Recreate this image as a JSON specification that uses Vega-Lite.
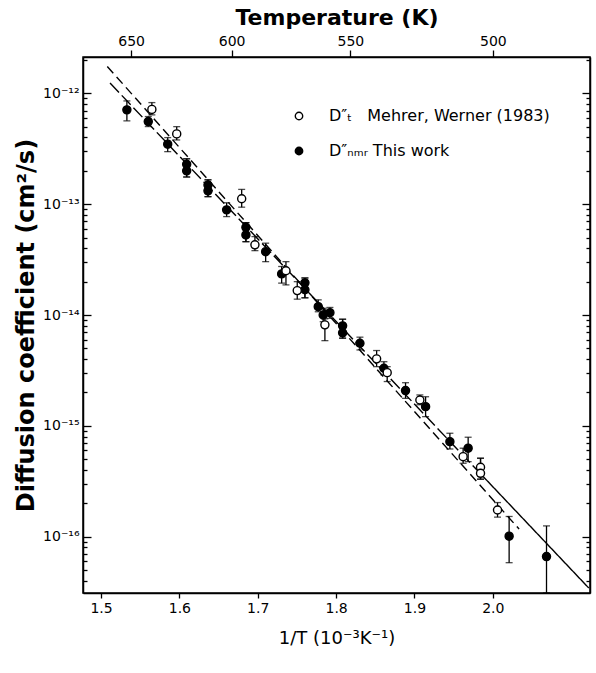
{
  "$schema": "https://vega.github.io/schema/vega-lite/v6.json",
  "width": 507,
  "height": 536,
  "autosize": {"type": "none"},
  "padding": {"left": 83, "top": 57, "right": 6, "bottom": 80},
  "background": "white",
  "config": {
    "view": {"stroke": "black", "strokeWidth": 1.5},
    "axis": {"domainColor": "black", "domainWidth": 1.5, "tickColor": "black", "tickWidth": 1.3, "labelColor": "black", "titleColor": "black", "grid": false, "labelFont": "DejaVu Sans", "titleFont": "DejaVu Sans"},
    "legend": {"labelFont": "DejaVu Sans"}
  },
  "datasets": {
    "fits": [
      {"series": "tracer", "x": 1.508, "D": 1.75e-12},
      {"series": "tracer", "x": 2.0335, "D": 1.17e-16},
      {"series": "nmr", "x": 1.5115, "D": 1.24e-12},
      {"series": "nmr", "x": 1.985, "D": 3.65e-16},
      {"series": "nmrext", "x": 1.985, "D": 3.65e-16},
      {"series": "nmrext", "x": 2.1224, "D": 3.44e-17}
    ],
    "points": [
      {"series": "nmr", "x": 1.533, "D": 7.10e-13, "lo": 5.65e-13, "hi": 8.55e-13},
      {"series": "nmr", "x": 1.5603, "D": 5.57e-13, "lo": 5.02e-13, "hi": 6.18e-13},
      {"series": "nmr", "x": 1.5851, "D": 3.48e-13, "lo": 2.98e-13, "hi": 3.99e-13},
      {"series": "nmr", "x": 1.6093, "D": 2.29e-13, "lo": 1.76e-13, "hi": 2.57e-13},
      {"series": "nmr", "x": 1.6093, "D": 2.00e-13, "lo": 1.76e-13, "hi": 2.57e-13},
      {"series": "nmr", "x": 1.6365, "D": 1.49e-13, "lo": 1.17e-13, "hi": 1.66e-13},
      {"series": "nmr", "x": 1.6365, "D": 1.32e-13, "lo": 1.17e-13, "hi": 1.66e-13},
      {"series": "nmr", "x": 1.6603, "D": 8.89e-14, "lo": 7.73e-14, "hi": 1.03e-13},
      {"series": "nmr", "x": 1.6849, "D": 6.18e-14, "lo": 4.59e-14, "hi": 6.82e-14},
      {"series": "nmr", "x": 1.6849, "D": 5.28e-14, "lo": 4.59e-14, "hi": 6.82e-14},
      {"series": "nmr", "x": 1.7101, "D": 3.73e-14, "lo": 3.03e-14, "hi": 4.45e-14},
      {"series": "nmr", "x": 1.7305, "D": 2.35e-14, "lo": 1.94e-14, "hi": 2.74e-14},
      {"series": "nmr", "x": 1.7602, "D": 1.95e-14, "lo": 1.43e-14, "hi": 2.16e-14},
      {"series": "nmr", "x": 1.7602, "D": 1.69e-14, "lo": 1.43e-14, "hi": 2.16e-14},
      {"series": "nmr", "x": 1.7772, "D": 1.19e-14, "lo": 1.07e-14, "hi": 1.37e-14},
      {"series": "nmr", "x": 1.7835, "D": 1.00e-14, "lo": 8.7e-15, "hi": 1.15e-14},
      {"series": "nmr", "x": 1.7921, "D": 1.05e-14, "lo": 9.35e-15, "hi": 1.17e-14},
      {"series": "nmr", "x": 1.8083, "D": 7.98e-15, "lo": 6.18e-15, "hi": 9.16e-15},
      {"series": "nmr", "x": 1.8083, "D": 6.90e-15, "lo": 6.18e-15, "hi": 9.16e-15},
      {"series": "nmr", "x": 1.8304, "D": 5.56e-15, "lo": 4.84e-15, "hi": 6.31e-15},
      {"series": "nmr", "x": 1.861, "D": 3.31e-15, "lo": 2.88e-15, "hi": 3.79e-15},
      {"series": "nmr", "x": 1.8886, "D": 2.08e-15, "lo": 1.77e-15, "hi": 2.45e-15},
      {"series": "nmr", "x": 1.9142, "D": 1.49e-15, "lo": 1.21e-15, "hi": 1.83e-15},
      {"series": "nmr", "x": 1.9452, "D": 7.20e-16, "lo": 6.18e-16, "hi": 8.57e-16},
      {"series": "nmr", "x": 1.9685, "D": 6.28e-16, "lo": 4.75e-16, "hi": 7.89e-16},
      {"series": "nmr", "x": 2.0208, "D": 1.01e-16, "lo": 5.82e-17, "hi": 1.52e-16},
      {"series": "nmr", "x": 2.0685, "D": 6.61e-17, "lo": 3.1e-17, "hi": 1.25e-16},
      {"series": "tracer", "x": 1.5649, "D": 7.17e-13, "lo": 6.40e-13, "hi": 8.26e-13},
      {"series": "tracer", "x": 1.5966, "D": 4.31e-13, "lo": 3.80e-13, "hi": 5.01e-13},
      {"series": "tracer", "x": 1.6795, "D": 1.12e-13, "lo": 9.40e-14, "hi": 1.36e-13},
      {"series": "tracer", "x": 1.6964, "D": 4.30e-14, "lo": 3.81e-14, "hi": 5.10e-14},
      {"series": "tracer", "x": 1.736, "D": 2.51e-14, "lo": 1.87e-14, "hi": 3.03e-14},
      {"series": "tracer", "x": 1.7504, "D": 1.66e-14, "lo": 1.39e-14, "hi": 2.00e-14},
      {"series": "tracer", "x": 1.7857, "D": 8.15e-15, "lo": 5.87e-15, "hi": 9.23e-15},
      {"series": "tracer", "x": 1.8517, "D": 4.02e-15, "lo": 3.42e-15, "hi": 4.78e-15},
      {"series": "tracer", "x": 1.8652, "D": 3.02e-15, "lo": 2.51e-15, "hi": 3.42e-15},
      {"series": "tracer", "x": 1.9069, "D": 1.71e-15, "lo": 1.55e-15, "hi": 1.90e-15},
      {"series": "tracer", "x": 1.9621, "D": 5.27e-16, "lo": 4.59e-16, "hi": 6.28e-16},
      {"series": "tracer", "x": 1.9843, "D": 4.23e-16, "lo": 3.30e-16, "hi": 5.10e-16},
      {"series": "tracer", "x": 1.9843, "D": 3.73e-16, "lo": 3.30e-16, "hi": 5.10e-16},
      {"series": "tracer", "x": 2.006, "D": 1.74e-16, "lo": 1.50e-16, "hi": 2.03e-16}
    ]
  },
  "layer": [
    {
      "data": {"name": "fits"},
      "mark": {"type": "line", "color": "black", "strokeWidth": 1.4},
      "encoding": {
        "x": {"field": "x", "type": "quantitative",
              "scale": {"domain": [1.477, 2.124], "nice": false, "zero": false},
              "axis": {"orient": "bottom", "values": [1.5, 1.6, 1.7, 1.8, 1.9, 2.0], "format": ".1f", "tickSize": 5, "labelFontSize": 14, "labelPadding": 3, "title": "1/T (10⁻³K⁻¹)", "titleFontSize": 18, "titleFontWeight": "normal", "titlePadding": 14}},
        "y": {"field": "D", "type": "quantitative",
              "scale": {"type": "log", "domain": [3.1e-17, 2.13e-12], "nice": false},
              "axis": {"orient": "left",
                       "values": [4e-17, 5e-17, 6e-17, 7e-17, 8e-17, 9e-17, 1e-16, 2e-16, 3e-16, 4e-16, 5e-16, 6e-16, 7e-16, 8e-16, 9e-16, 1e-15, 2e-15, 3e-15, 4e-15, 5e-15, 6e-15, 7e-15, 8e-15, 9e-15, 1e-14, 2e-14, 3e-14, 4e-14, 5e-14, 6e-14, 7e-14, 8e-14, 9e-14, 1e-13, 2e-13, 3e-13, 4e-13, 5e-13, 6e-13, 7e-13, 8e-13, 9e-13, 1e-12, 2e-12],
                       "labelExpr": "abs(log(datum.value)/LN10 + 12) < 0.01 ? '10⁻¹²' : abs(log(datum.value)/LN10 + 13) < 0.01 ? '10⁻¹³' : abs(log(datum.value)/LN10 + 14) < 0.01 ? '10⁻¹⁴' : abs(log(datum.value)/LN10 + 15) < 0.01 ? '10⁻¹⁵' : abs(log(datum.value)/LN10 + 16) < 0.01 ? '10⁻¹⁶' : ''",
                       "labelOverlap": false,
                       "tickSize": {"condition": {"test": "abs(log(datum.value)/LN10 - round(log(datum.value)/LN10)) < 0.01", "value": -8}, "value": -4},
                       "labelFontSize": 14, "labelPadding": 12,
                       "title": "Diffusion coefficient (cm²/s)", "titleFontSize": 24, "titleFontWeight": "bold", "titlePadding": 4}},
        "detail": {"field": "series"},
        "strokeDash": {"field": "series", "type": "nominal", "scale": {"domain": ["tracer", "nmr", "nmrext"], "range": [[9, 5], [13, 4], [1, 0]]}, "legend": null}
      }
    },
    {
      "data": {"name": "points"},
      "mark": {"type": "errorbar", "color": "black", "thickness": 1.3, "ticks": {"size": 7, "thickness": 1.3, "color": "black"}},
      "encoding": {
        "x": {"field": "x", "type": "quantitative", "scale": {"domain": [1.477, 2.124], "nice": false, "zero": false}, "axis": null},
        "y": {"field": "lo", "type": "quantitative", "scale": {"type": "log", "domain": [3.1e-17, 2.13e-12], "nice": false}, "axis": null},
        "y2": {"field": "hi"}
      }
    },
    {
      "data": {"name": "points"},
      "mark": {"type": "point", "filled": true, "shape": "circle", "stroke": "black", "strokeWidth": 1.4, "opacity": 1, "size": 65},
      "encoding": {
        "x": {"field": "x", "type": "quantitative", "scale": {"domain": [1.477, 2.124], "nice": false, "zero": false},
              "axis": {"orient": "top", "values": [1.538462, 1.666667, 1.818182, 2.0], "labelExpr": "round(1000/datum.value)", "tickSize": 7, "labelFontSize": 14, "labelPadding": 2, "title": "Temperature (K)", "titleFontSize": 22, "titleFontWeight": "bold", "titlePadding": 5}},
        "y": {"field": "D", "type": "quantitative", "scale": {"type": "log", "domain": [3.1e-17, 2.13e-12], "nice": false},
              "axis": {"orient": "right",
                       "values": [4e-17, 5e-17, 6e-17, 7e-17, 8e-17, 9e-17, 1e-16, 2e-16, 3e-16, 4e-16, 5e-16, 6e-16, 7e-16, 8e-16, 9e-16, 1e-15, 2e-15, 3e-15, 4e-15, 5e-15, 6e-15, 7e-15, 8e-15, 9e-15, 1e-14, 2e-14, 3e-14, 4e-14, 5e-14, 6e-14, 7e-14, 8e-14, 9e-14, 1e-13, 2e-13, 3e-13, 4e-13, 5e-13, 6e-13, 7e-13, 8e-13, 9e-13, 1e-12, 2e-12],
                       "labels": false, "title": null,
                       "tickSize": {"condition": {"test": "abs(log(datum.value)/LN10 - round(log(datum.value)/LN10)) < 0.01", "value": -8}, "value": -4}}},
        "fill": {"field": "series", "type": "nominal",
                 "scale": {"domain": ["tracer", "nmr"], "range": ["white", "black"]},
                 "legend": {"orient": "none", "legendX": 208, "legendY": 51, "title": null, "direction": "vertical",
                            "labelExpr": "datum.label == 'tracer' ? 'D″ₜ\u00a0\u00a0\u00a0Mehrer, Werner (1983)' : 'D″ₙₘᵣ This work'",
                            "labelFontSize": 16, "labelOffset": 22, "labelLimit": 0, "symbolType": "circle", "symbolSize": 55,
                            "symbolStrokeColor": "black", "symbolStrokeWidth": 1.4, "rowPadding": 19}}
      }
    }
  ],
  "resolve": {"axis": {"x": "independent", "y": "independent"}}
}
